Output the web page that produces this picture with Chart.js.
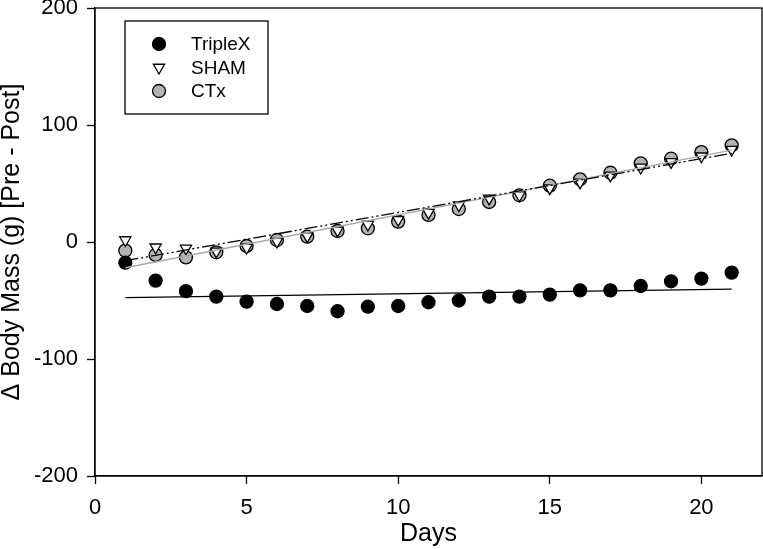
<!DOCTYPE html>
<html>
<head>
<meta charset="utf-8">
<script src="https://cdn.jsdelivr.net/npm/chart.js@4/dist/chart.umd.min.js"></script>
<style>
  html, body { margin: 0; padding: 0; background: #fff; }
  #wrap { width: 763px; height: 549px; }
</style>
</head>
<body>
<div id="wrap"><canvas id="chart" width="763" height="549"></canvas></div>
<script>
// values
const days = [1, 2, 3, 4, 5, 6, 7, 8, 9, 10, 11, 12, 13, 14, 15, 16, 17, 18, 19, 20, 21];
const tripleX = [-17.7, -33, -42, -46.7, -51, -53, -54.7, -59.2, -55.3, -54.7, -51.5, -50, -46.7, -46.7, -45, -41.3, -41.3, -37.6, -33.6, -31.3, -26.2];
const sham = [1.7, -4.5, -5.4, -8, -4.7, 0.4, 5, 10, 15, 19, 25.1, 31.6, 37.3, 40, 46, 51, 57, 63.7, 68.5, 73.3, 79];
const ctxMass = [-7.4, -11.1, -13.1, -8.8, -3.4, 1.7, 4.6, 9.4, 11.7, 17.4, 23.1, 28.2, 34.2, 39.9, 48.1, 53.6, 59.2, 67.2, 71.2, 76.9, 82.6];

// regression lines (end points)
const fitDays = [1, 21];
const tripleXFit = [-47.6, -40.2];
const shamFit = [-16, 75.8];
const ctxFit = [-22, 78.5];

const xTickValues = [0, 5, 10, 15, 20];
const yTickValues = [-200, -100, 0, 100, 200];

const toPoints = (xs, ys) => xs.map((x, i) => ({ x: x, y: ys[i] }));

const FONT = "'Liberation Sans', Arial, sans-serif";

function fitLine(values, color, dash) {
  return {
    type: 'line',
    data: toPoints(fitDays, values),
    borderColor: color,
    borderWidth: 1.3,
    borderDash: dash,
    pointRadius: 0,
    fill: false,
    legendEntry: false
  };
}

function markers(label, values, style, fill, rotation) {
  return {
    type: 'scatter',
    label: label,
    data: toPoints(days, values),
    pointStyle: style,
    pointRotation: rotation,
    pointRadius: 6.5,
    pointBackgroundColor: fill,
    pointBorderColor: '#000',
    pointBorderWidth: 1.3,
    legendEntry: true
  };
}

// no extra room for edge labels, the plot box is fixed
function noPadding(scale) {
  scale.paddingLeft = 0;
  scale.paddingRight = 0;
  scale.paddingTop = 0;
  scale.paddingBottom = 0;
}

// black box around the plot and the boxed legend inside it
const framePlugin = {
  id: 'frame',
  afterDraw(chart) {
    const c = chart.ctx;
    const a = chart.chartArea;
    c.save();
    c.strokeStyle = '#000';
    c.lineWidth = 1.3;
    c.strokeRect(a.left, a.top, a.right - a.left, a.bottom - a.top);

    // legend
    const entries = chart.data.datasets.filter(d => d.legendEntry);
    const boxX = 125, boxY = 21, boxW = 143, boxH = 93;
    c.fillStyle = '#fff';
    c.fillRect(boxX, boxY, boxW, boxH);
    c.strokeRect(boxX, boxY, boxW, boxH);
    c.font = '19px ' + FONT;
    c.textBaseline = 'middle';
    entries.forEach((d, i) => {
      const y = 44 + i * 23.5;
      c.fillStyle = d.pointBackgroundColor;
      c.strokeStyle = '#000';
      c.lineWidth = d.pointBorderWidth;
      Chart.helpers.drawPoint(c, {
        pointStyle: d.pointStyle,
        rotation: d.pointRotation || 0,
        radius: d.pointRadius,
        borderWidth: d.pointBorderWidth
      }, 159, y);
      c.fillStyle = '#000';
      c.fillText(d.label, 191, y + 1);
    });
    c.restore();
  }
};

new Chart(document.getElementById('chart'), {
  type: 'scatter',
  data: {
    datasets: [
      fitLine(tripleXFit, '#000', []),
      fitLine(shamFit, '#000', [13, 3, 2, 3, 2, 3]),
      fitLine(ctxFit, '#a8a8a8', []),
      markers('TripleX', tripleX, 'circle', '#000', 0),
      markers('SHAM', sham, 'triangle', '#fff', 180),
      markers('CTx', ctxMass, 'circle', '#b3b3b3', 0)
    ]
  },
  options: {
    responsive: false,
    animation: false,
    layout: { autoPadding: false, padding: { top: 8, right: 1, left: 0, bottom: 0 } },
    plugins: {
      legend: { display: false },
      tooltip: { enabled: false }
    },
    scales: {
      x: {
        type: 'linear',
        min: 0,
        max: 22,
        afterFit(scale) { scale.height = 73; noPadding(scale); },
        afterBuildTicks(scale) { scale.ticks = xTickValues.map(v => ({ value: v })); },
        grid: { display: true, drawOnChartArea: false, tickLength: 8, color: '#000', tickColor: '#000', tickWidth: 1.3 },
        border: { display: true, color: '#000', width: 1.3 },
        ticks: { color: '#000', padding: 11, font: { family: FONT, size: 22 }, maxRotation: 0 },
        title: {
          display: true,
          text: 'Days',
          color: '#000',
          font: { family: FONT, size: 25, lineHeight: 1 },
          padding: { top: 0, bottom: 2 }
        }
      },
      y: {
        type: 'linear',
        min: -200,
        max: 200,
        afterFit(scale) { scale.width = 95; noPadding(scale); },
        afterBuildTicks(scale) { scale.ticks = yTickValues.map(v => ({ value: v })); },
        grid: { display: true, drawOnChartArea: false, tickLength: 8, color: '#000', tickColor: '#000', tickWidth: 1.3 },
        border: { display: true, color: '#000', width: 1.3 },
        ticks: { color: '#000', padding: 9, font: { family: FONT, size: 22 } },
        title: {
          display: true,
          text: '\u0394 Body Mass (g) [Pre - Post]',
          color: '#000',
          font: { family: FONT, size: 25, lineHeight: 1 },
          padding: { top: 0, bottom: 0 }
        }
      }
    }
  },
  plugins: [framePlugin]
});
</script>
</body>
</html>
